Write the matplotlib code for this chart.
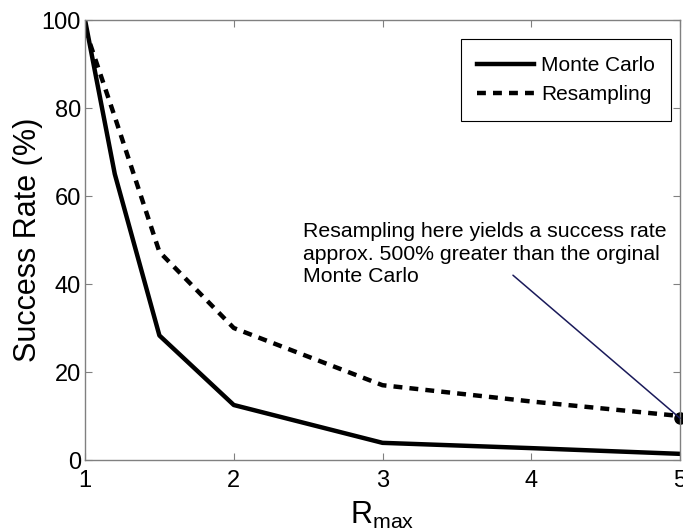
import matplotlib
matplotlib.use('Agg')
import matplotlib.pyplot as plt

plt.rcParams['font.family'] = ['Liberation Sans', 'DejaVu Sans']
plt.rcParams['mathtext.default'] = 'regular'

r_max = [1, 1.2, 1.5, 2, 3, 4, 5]
monte_carlo = [100, 65, 28.3, 12.5, 3.9, 2.7, 1.4]
resampling = [98, 78, 47.3, 30, 17, 13.3, 10]
highlight_x = 5
highlight_y = 9.5

fig = plt.figure(figsize=(6.83, 5.31), dpi=100)
ax = fig.add_axes([0.1245, 0.1337, 0.8711, 0.8286])

ax.plot(r_max, monte_carlo, color='black', lw=3.2, label='Monte Carlo')
ax.plot(r_max, resampling, color='black', lw=3.2, linestyle=(0, (2, 1.6)),
        label='Resampling')
ax.plot([highlight_x], [highlight_y], 'o', color='black', ms=8, clip_on=False)

ax.annotate('', xy=(highlight_x, highlight_y), xytext=(3.877, 42.0),
            arrowprops=dict(arrowstyle='-', color='#1a1a5a', lw=1.1,
                            shrinkA=0, shrinkB=0))
ax.text(2.466, 54.0,
        'Resampling here yields a success rate\n'
        'approx. 500% greater than the orginal\n'
        'Monte Carlo',
        fontsize=15.3, va='top', ha='left', linespacing=1.22)

ax.set_xlim(1, 5)
ax.set_ylim(0, 100)
ax.set_xticks([1, 2, 3, 4, 5])
ax.set_yticks([0, 20, 40, 60, 80, 100])
ax.tick_params(direction='in', length=5, width=0.8, color='#808080',
               labelsize=17, top=True, right=True)
ax.tick_params(axis='x', pad=7)
ax.tick_params(axis='y', pad=3)
for s in ax.spines.values():
    s.set_color('#808080')
    s.set_linewidth(1)

ax.set_xlabel('R$_{max}$', fontsize=22, labelpad=6)
ax.set_ylabel('Success Rate (%)', fontsize=22, labelpad=-1)

leg = ax.legend(loc='upper right', fontsize=15, handlelength=2.7,
                handletextpad=0.35, labelspacing=0.5,
                fancybox=False, edgecolor='black', framealpha=1,
                borderpad=0.8, bbox_to_anchor=(1.003, 0.98))
leg.get_frame().set_linewidth(0.8)

fig.savefig('out.png', dpi=100)
